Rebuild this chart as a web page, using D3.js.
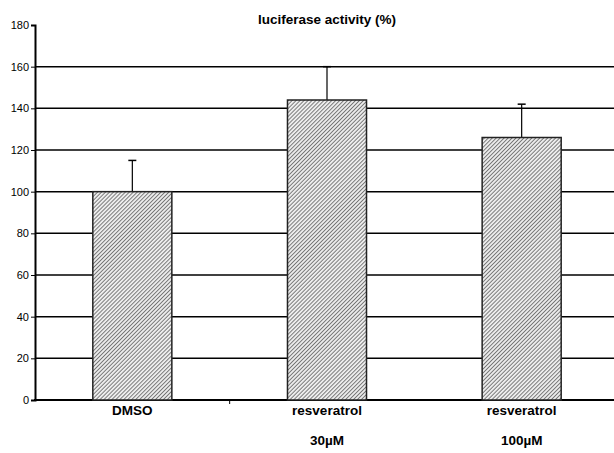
<!DOCTYPE html>
<html>
<head>
<meta charset="UTF-8">
<script src="https://cdn.jsdelivr.net/npm/d3@7"></script>
<style>
  body { margin: 0; background: #fff; }
  .lab { font-family: 'Liberation Sans', Arial, sans-serif; font-weight: bold; font-size: 13.5px; fill: #000; }
  .axis text { font-family: 'Liberation Sans', Arial, sans-serif; font-size: 11px; fill: #000; }
</style>
</head>
<body>
<div id="grafico"></div>
<script>
  var categorias = ['DMSO', 'resveratrol 30', 'resveratrol 100'];
  var linea1 = ['DMSO', 'resveratrol', 'resveratrol'];
  var linea2 = ['', '30\u00B5M', '100\u00B5M'];
  var valores = [100, 144, 126];
  var errores = [15, 16, 16];
  var ticksY = [0, 20, 40, 60, 80, 100, 120, 140, 160, 180];

  var w = 614, h = 453;
  var svg = d3.select("#grafico").append("svg")
    .attr("width", w).attr("height", h);

  // patron rayado
  var pat = svg.append("defs").append("pattern")
    .attr("id", "rayas").attr("patternUnits", "userSpaceOnUse")
    .attr("width", 2.8).attr("height", 2.8)
    .attr("patternTransform", "rotate(45)");
  pat.append("rect").attr("width", 2.8).attr("height", 2.8).attr("fill", "#ececec");
  pat.append("line").attr("x1", 0).attr("y1", 0).attr("x2", 0).attr("y2", 2.8)
    .attr("stroke", "#222").attr("stroke-width", 1.1);

  var x = d3.scaleBand().domain(categorias).range([35, 619]).paddingInner(0.594).paddingOuter(0.297);
  var y = d3.scaleLinear().domain([0, 180]).range([400, 25]);

  // lineas de rejilla
  svg.selectAll(".grid").data(ticksY.slice(1, -1)).enter().append("line")
    .attr("x1", 35).attr("x2", w)
    .attr("y1", function(d){ return y(d); }).attr("y2", function(d){ return y(d); })
    .attr("stroke", "#000").attr("stroke-width", 1.5);

  // eje Y
  var ejeY = svg.append("g").attr("class", "axis")
    .attr("transform", "translate(35,0)")
    .call(d3.axisLeft(y).tickValues(ticksY).tickSize(4).tickPadding(2));
  ejeY.select(".domain").attr("stroke-width", 2);
  ejeY.selectAll(".tick line").attr("stroke-width", 1);

  // eje X
  svg.append("line").attr("x1", 34).attr("x2", w).attr("y1", y(0)).attr("y2", y(0))
    .attr("stroke", "#000").attr("stroke-width", 2);
  var cortes = [x(categorias[1]) - x.step() * x.paddingInner() / 2];
  svg.selectAll(".corte").data(cortes).enter().append("line")
    .attr("x1", function(d){ return d; }).attr("x2", function(d){ return d; })
    .attr("y1", y(0)).attr("y2", y(0) + 4).attr("stroke", "#000");

  // barras de error
  svg.selectAll(".err").data(categorias).enter().append("line")
    .attr("x1", function(d){ return x(d) + x.bandwidth() / 2; })
    .attr("x2", function(d){ return x(d) + x.bandwidth() / 2; })
    .attr("y1", function(d, i){ return y(valores[i]); })
    .attr("y2", function(d, i){ return y(valores[i] + errores[i]); })
    .attr("stroke", "#000").attr("stroke-width", 1.2);
  svg.selectAll(".cap").data(categorias).enter().append("line")
    .attr("x1", function(d){ return x(d) + x.bandwidth() / 2 - 4; })
    .attr("x2", function(d){ return x(d) + x.bandwidth() / 2 + 4; })
    .attr("y1", function(d, i){ return y(valores[i] + errores[i]); })
    .attr("y2", function(d, i){ return y(valores[i] + errores[i]); })
    .attr("stroke", "#000").attr("stroke-width", 1.5);

  // barras
  svg.selectAll(".barra").data(categorias).enter().append("rect")
    .attr("x", function(d){ return x(d); })
    .attr("width", x.bandwidth())
    .attr("y", function(d, i){ return y(valores[i]); })
    .attr("height", function(d, i){ return y(0) - y(valores[i]); })
    .attr("fill", "url(#rayas)").attr("stroke", "#222").attr("stroke-width", 1.5);

  // etiquetas
  svg.selectAll(".l1").data(categorias).enter().append("text").attr("class", "lab")
    .attr("x", function(d){ return x(d) + x.bandwidth() / 2; }).attr("y", 415)
    .attr("text-anchor", "middle").text(function(d, i){ return linea1[i]; });
  svg.selectAll(".l2").data(categorias).enter().append("text").attr("class", "lab")
    .attr("x", function(d){ return x(d) + x.bandwidth() / 2; }).attr("y", 445)
    .attr("text-anchor", "middle").text(function(d, i){ return linea2[i]; });

  svg.append("text").attr("class", "lab").attr("x", 327).attr("y", 24)
    .attr("text-anchor", "middle").text("luciferase activity (%)");
</script>
</body>
</html>
